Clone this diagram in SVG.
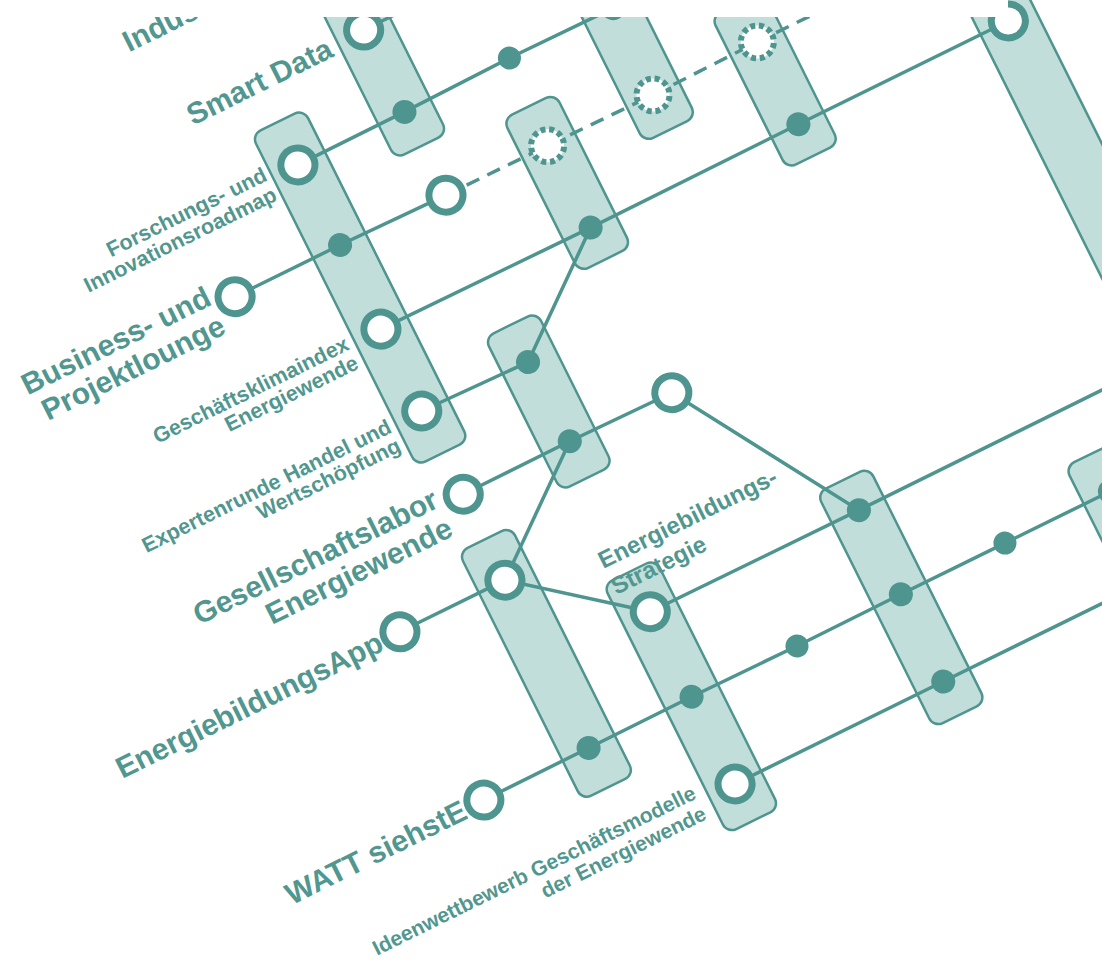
<svg xmlns="http://www.w3.org/2000/svg" width="1102" height="962" viewBox="0 0 1102 962">
<style>
.r{fill:#c2dedb;stroke:#4f958f;stroke-width:2.5}
.l{stroke:#4f958f;stroke-width:3.5;fill:none;stroke-linejoin:round}
.d{stroke-dasharray:14 9}
.o{fill:#fff;stroke:#4f958f;stroke-width:7}
.f{fill:#4f958f}
.c{fill:#fff;stroke:#4f958f;stroke-width:6;stroke-dasharray:5 3.64}
.b{font-family:'Liberation Sans',Arial,sans-serif;font-weight:bold;font-size:30px;fill:#52978f}
.s{font-family:'Liberation Sans',Arial,sans-serif;font-weight:bold;font-size:21.5px;fill:#52978f}
.e{text-anchor:end}
</style>
<rect width="1102" height="962" fill="#fff"/>
<g transform="matrix(0.8973,-0.4415,0.4462,0.8949,0,0)">
<g id="rects">
<rect id="R1" class="r" x="283" y="100" width="58" height="217" rx="10"/>
<rect id="R2" class="r" x="513" y="200" width="58" height="212" rx="10"/>
<rect id="R3" class="r" x="397" y="329" width="58" height="171" rx="10"/>
<rect id="R4" class="r" x="629" y="329" width="58" height="170" rx="10"/>
<rect id="RA" class="r" x="165" y="232" width="58" height="370" rx="10"/>
<rect id="R5" class="r" x="283" y="517" width="58" height="171" rx="10"/>
<rect id="R6" class="r" x="164" y="698" width="58" height="277" rx="10"/>
<rect id="R7" class="r" x="279" y="791" width="58" height="278" rx="10"/>
<rect id="R8" class="r" x="511" y="803" width="58" height="262" rx="10"/>
<rect id="R9" class="r" x="745" y="889" width="58" height="200" rx="10"/>
<rect id="R10" class="r" x="862" y="400" width="60" height="600" rx="10"/>
</g>
<g id="connectors">
<polyline class="l" points="312,187.5 470,187.5"/>
<polyline class="l" points="193,279.5 312,279 430,277 545,278 700,278"/>
<polyline class="l" points="78,370 195,370 312,372"/>
<polyline class="l d" points="312,372 425,372.5 542,373.5 659,372 760,372"/>
<polyline class="l" points="194,463.5 427,465 659,464 893,464"/>
<polyline class="l" points="194,555 311,558 427,465"/>
<polyline class="l" points="194,648 313,647.5 426,649 541,837 830,836.5"/>
<polyline class="l" points="313,647.5 193,743.5"/>
<polyline class="l" points="76,743.5 193,743.5 309,836 541,837"/>
<polyline class="l" points="76,931.5 193,931 308,930.5 425,931.5 541,931 657,931 774,931 900,931"/>
<polyline class="l" points="308,1028 540,1028 780,1028"/>
</g>
<g id="nodes">
<circle id="n-smartdata" class="o" cx="312" cy="187.5" r="17"/>
<circle id="n-forschung" class="o" cx="193" cy="279.5" r="17"/>
<circle id="d-sd" class="f" cx="312" cy="279" r="12"/>
<circle id="d1" class="f" cx="430" cy="277" r="11.5"/>
<circle id="d2" class="f" cx="545" cy="278" r="12"/>
<circle id="n-business" class="o" cx="78" cy="370" r="17"/>
<circle id="d3" class="f" cx="195" cy="370" r="12"/>
<circle id="o1" class="o" cx="312" cy="372" r="17"/>
<circle id="dc1" class="c" cx="425" cy="372.5" r="16.5"/>
<circle id="dc2" class="c" cx="542" cy="373.5" r="16.5"/>
<circle id="dc3" class="c" cx="659" cy="372" r="16.5"/>
<circle id="n-klima" class="o" cx="194" cy="463.5" r="17"/>
<circle id="d4" class="f" cx="427" cy="465" r="12"/>
<circle id="d5" class="f" cx="659" cy="464" r="12"/>
<circle id="o2" class="o" cx="893" cy="464" r="17"/>
<circle id="n-experten" class="o" cx="194" cy="555" r="17"/>
<circle id="d6" class="f" cx="311" cy="558" r="12"/>
<circle id="n-gesellschaft" class="o" cx="194" cy="648" r="17"/>
<circle id="d7" class="f" cx="313" cy="647.5" r="12"/>
<circle id="o3" class="o" cx="426" cy="649" r="17"/>
<circle id="n-app" class="o" cx="76" cy="743.5" r="17"/>
<circle id="o4" class="o" cx="193" cy="743.5" r="17"/>
<circle id="n-strategie" class="o" cx="309" cy="836" r="17"/>
<circle id="d8" class="f" cx="541" cy="837" r="12"/>
<circle id="n-watt" class="o" cx="76" cy="931.5" r="17"/>
<circle id="d9" class="f" cx="193" cy="931" r="12"/>
<circle id="d10" class="f" cx="308" cy="930.5" r="12"/>
<circle id="d11" class="f" cx="425" cy="931.5" r="11.5"/>
<circle id="d12" class="f" cx="541" cy="931" r="12"/>
<circle id="d13" class="f" cx="657" cy="931" r="11.5"/>
<circle id="d14" class="f" cx="774" cy="931" r="12"/>
<circle id="n-ideen" class="o" cx="308" cy="1028" r="17"/>
<circle id="d15" class="f" cx="540" cy="1028" r="12"/>
</g>
<g id="labels">
<text class="b" x="92" y="104">Indus</text>
<text class="b e" x="275" y="198">Smart Data</text>
<text class="b e" x="55" y="367">Business- und</text>
<text class="b e" x="55" y="399">Projektlounge</text>
<text class="b e" x="168" y="649">Gesellschaftslabor</text>
<text class="b e" x="168" y="681">Energiewende</text>
<text class="b e" x="55" y="753">EnergiebildungsApp</text>
<text class="b e" x="55" y="941">WATT siehstE</text>
<text class="s e" x="160" y="280">Forschungs- und</text>
<text class="s e" x="160" y="302">Innovationsroadmap</text>
<text class="s e" x="158" y="468">Geschäftsklimaindex</text>
<text class="s e" x="158" y="489">Energiewende</text>
<text class="s e" x="159" y="561">Expertenrunde Handel und</text>
<text class="s e" x="159" y="582">Wertschöpfung</text>
<text class="s e" style="font-size:21px" x="268" y="1024">Ideenwettbewerb Geschäftsmodelle</text>
<text class="s e" style="font-size:21px" x="268" y="1047">der Energiewende</text>
<text class="s" style="font-size:24px" x="286" y="777">Energiebildungs-</text>
<text class="s" style="font-size:24px" x="286" y="806">Strategie</text>
</g>
</g>
<rect x="0" y="0" width="1008" height="17" fill="#fff"/>
</svg>
